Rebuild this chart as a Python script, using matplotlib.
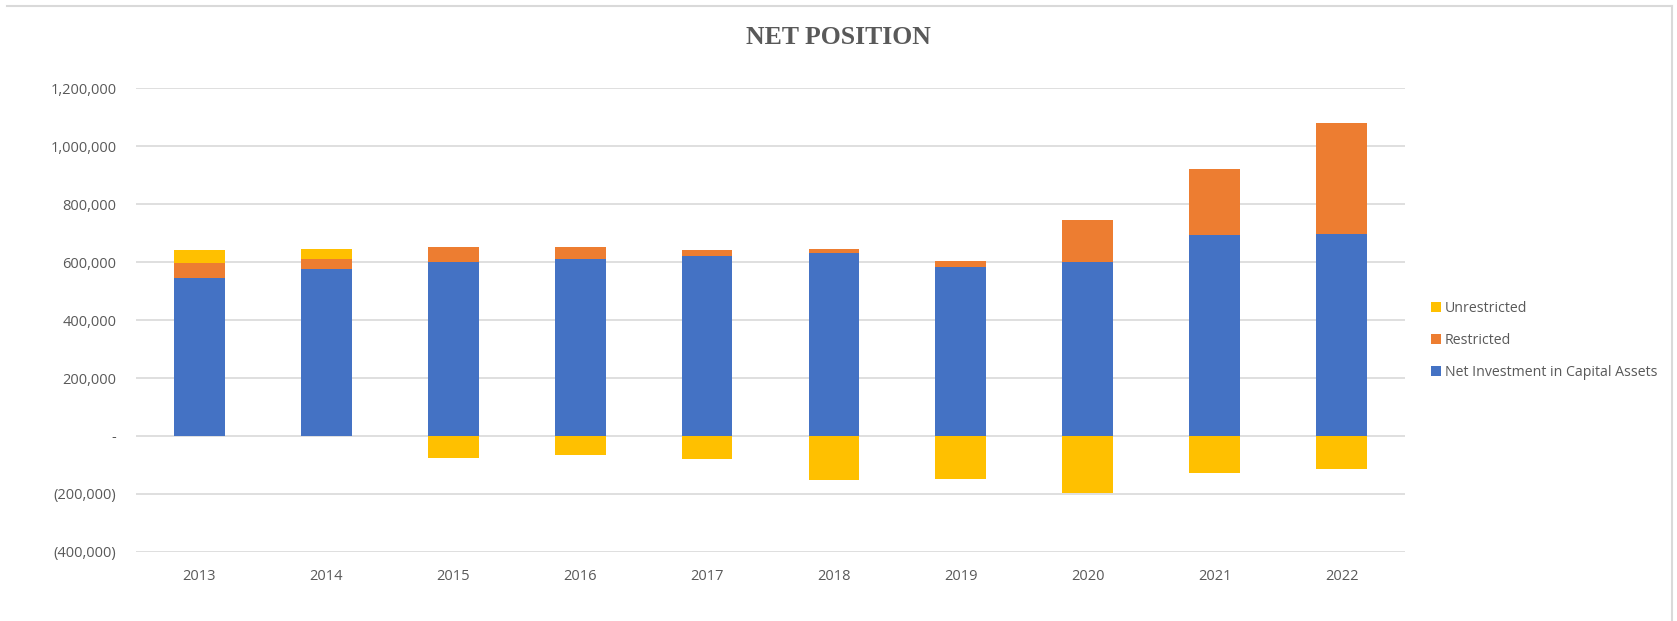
import matplotlib

matplotlib.use("Agg")
import matplotlib.pyplot as plt
from matplotlib.lines import Line2D
from matplotlib.patches import Patch
from matplotlib.ticker import FuncFormatter

# values
years = ["2013", "2014", "2015", "2016", "2017", "2018", "2019", "2020", "2021", "2022"]
net_investment = [545000, 575000, 600000, 612000, 620000, 630000, 583000, 599000, 693000, 696000]
restricted = [50000, 35000, 51000, 41000, 23000, 15000, 19000, 147000, 229000, 384000]
unrestricted = [48000, 35000, -76000, -67000, -79000, -150000, -148000, -196000, -127000, -114000]

BLUE = "#4472C4"
ORANGE = "#ED7D31"
YELLOW = "#FFC000"
TEXT = "#595959"
GRID = "#D9D9D9"

plt.rcParams["font.family"] = ["Open Sans", "DejaVu Sans"]


def money(v, _pos):
    if v == 0:
        return "-"
    if v < 0:
        return f"({abs(v):,.0f})"
    return f"{v:,.0f}"


fig = plt.figure(figsize=(16.77, 6.21), dpi=100)
ax = fig.add_axes([136 / 1677, 69 / 621, 1269 / 1677, 464 / 621])

x = range(len(years))
width = 0.4
ax.bar(x, net_investment, width, color=BLUE, zorder=3)
ax.bar(x, restricted, width, bottom=net_investment, color=ORANGE, zorder=3)
# positive unrestricted stacks on top, negative hangs below zero
unres_bottom = [n + r if u >= 0 else 0 for n, r, u in zip(net_investment, restricted, unrestricted)]
ax.bar(x, unrestricted, width, bottom=unres_bottom, color=YELLOW, zorder=3)

ax.set_xlim(-0.5, len(years) - 0.5)
ax.set_ylim(-400000, 1200000)
ax.set_yticks(range(-400000, 1200001, 200000))
ax.yaxis.set_major_formatter(FuncFormatter(money))
ax.set_xticks(list(x))
ax.set_xticklabels(years)
ax.tick_params(axis="y", length=0, pad=14, labelsize=10.5, labelcolor=TEXT)
ax.tick_params(axis="x", length=0, pad=12, labelsize=10.5, labelcolor=TEXT)
ax.grid(axis="y", color=GRID, linewidth=1.2, zorder=0)
for s in ax.spines.values():
    s.set_visible(False)

fig.text(838 / 1677, 1 - 37 / 621, "NET POSITION", ha="center", va="center",
         fontsize=18.5, fontweight="bold", color=TEXT, family="Liberation Serif")

handles = [
    Patch(facecolor=YELLOW, label="Unrestricted"),
    Patch(facecolor=ORANGE, label="Restricted"),
    Patch(facecolor=BLUE, label="Net Investment in Capital Assets"),
]
fig.legend(handles=handles, loc="center left", bbox_to_anchor=(1418 / 1677, 1 - 340 / 621),
           frameon=False, fontsize=10.2, labelcolor=TEXT, handlelength=0.7,
           handleheight=0.7, handletextpad=0.3, labelspacing=1.2)

# thin chart-area border (top and right edges visible in the reference)
fig.add_artist(Line2D([7 / 1677, 1672 / 1677], [1 - 6 / 621] * 2, color=GRID, lw=1.5,
                      transform=fig.transFigure))
fig.add_artist(Line2D([1672 / 1677] * 2, [0, 1 - 6 / 621], color=GRID, lw=1.5,
                      transform=fig.transFigure))

fig.savefig("out.png", dpi=100)
